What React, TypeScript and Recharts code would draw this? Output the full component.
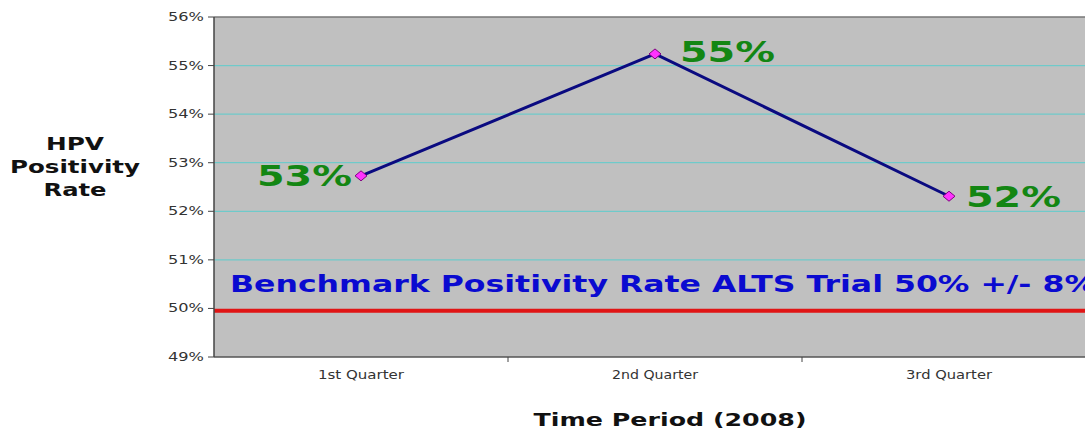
import { CartesianGrid, LabelList, Line, LineChart, ReferenceLine, XAxis, YAxis } from 'recharts';

const quarters = ['1st Quarter', '2nd Quarter', '3rd Quarter'];
const positivityRate = [52.73, 55.24, 52.31];
const rateLabels = ['53%', '55%', '52%'];
const yTicks = [49, 50, 51, 52, 53, 54, 55, 56];
const gridValues = [51, 52, 53, 54, 55];
const benchmarkRate = 49.95;
const benchmarkText = 'Benchmark Positivity Rate ALTS Trial 50% +/- 8%';
const yTitleLines = ['HPV', 'Positivity', 'Rate'];

const data = quarters.map((quarter, i) => ({
  quarter,
  rate: positivityRate[i],
  label: rateLabels[i],
}));

const FONT = '"DejaVu Sans", Verdana, sans-serif';

// eslint-disable-next-line @typescript-eslint/no-explicit-any
function QuarterTick({ x, y, payload, index }: any) {
  const half = payload?.offset || 147;
  return (
    <g>
      <text
        x={x}
        y={y + 14}
        textAnchor="middle"
        fontSize={12}
        fill="#333"
        fontFamily={FONT}
        textLength={86}
        lengthAdjust="spacingAndGlyphs"
      >
        {payload.value}
      </text>
      {index < quarters.length - 1 && (
        <line x1={x + half} x2={x + half} y1={y - 8} y2={y - 3} stroke="#444" strokeWidth={1} />
      )}
    </g>
  );
}

// eslint-disable-next-line @typescript-eslint/no-explicit-any
function PercentTick({ x, y, payload }: any) {
  return (
    <text
      x={x - 2}
      y={y + 4}
      textAnchor="end"
      fontSize={12}
      fill="#333"
      fontFamily={FONT}
      textLength={36}
      lengthAdjust="spacingAndGlyphs"
    >
      {`${payload.value}%`}
    </text>
  );
}

const labelOffsets = [
  { dx: -9, dy: 10, anchor: 'end' },
  { dx: 25, dy: 8, anchor: 'start' },
  { dx: 17, dy: 11, anchor: 'start' },
];

// eslint-disable-next-line @typescript-eslint/no-explicit-any
function RateLabel({ x, y, value, index }: any) {
  const o = labelOffsets[index] ?? labelOffsets[1];
  return (
    <text
      x={x + o.dx}
      y={y + o.dy}
      textAnchor={o.anchor as 'start' | 'end'}
      fontSize={29}
      fontWeight="bold"
      fill="#138613"
      fontFamily={FONT}
      textLength={95}
      lengthAdjust="spacingAndGlyphs"
    >
      {value}
    </text>
  );
}

// eslint-disable-next-line @typescript-eslint/no-explicit-any
function Diamond({ cx, cy }: any) {
  if (cx == null || cy == null) return null;
  return (
    <path
      d={`M${cx},${cy - 5} L${cx + 6},${cy} L${cx},${cy + 5} L${cx - 6},${cy} Z`}
      fill="#ff33ff"
      stroke="#800080"
      strokeWidth={1}
    />
  );
}

const yTitleWidths = [58, 130, 63];

// eslint-disable-next-line @typescript-eslint/no-explicit-any
function YTitle({ viewBox }: any) {
  const top = viewBox.y + viewBox.height / 2 - 37;
  return (
    <g>
      {yTitleLines.map((line, i) => (
        <text
          key={line}
          x={75}
          y={top + i * 23}
          textAnchor="middle"
          fontSize={17}
          fontWeight="bold"
          fill="#111"
          fontFamily={FONT}
          textLength={yTitleWidths[i]}
          lengthAdjust="spacingAndGlyphs"
        >
          {line}
        </text>
      ))}
    </g>
  );
}

// eslint-disable-next-line @typescript-eslint/no-explicit-any
function XTitle({ viewBox }: any) {
  return (
    <text
      x={670}
      y={viewBox.y + 69}
      textAnchor="middle"
      fontSize={18}
      fontWeight="bold"
      fill="#111"
      fontFamily={FONT}
      textLength={273}
      lengthAdjust="spacingAndGlyphs"
    >
      Time Period (2008)
    </text>
  );
}

// eslint-disable-next-line @typescript-eslint/no-explicit-any
function BenchmarkLabel({ viewBox }: any) {
  return (
    <text
      x={230}
      y={viewBox.y - 19}
      fontSize={23}
      fontWeight="bold"
      fill="#0a0ad0"
      fontFamily={FONT}
      textLength={866}
      lengthAdjust="spacingAndGlyphs"
    >
      {benchmarkText}
    </text>
  );
}

export default function App() {
  return (
    <div style={{ position: 'absolute', left: 0, top: 0, width: 1085, height: 430, overflow: 'hidden', background: '#fff' }}>
      <LineChart width={1100} height={430} data={data} margin={{ top: 17, right: 4, bottom: 0, left: 0 }}>
        <CartesianGrid fill="#c0c0c0" stroke="#6fcaca" strokeWidth={1.2} vertical={false} horizontalValues={gridValues} />
        <XAxis
          dataKey="quarter"
          scale="band"
          height={73}
          tickLine={false}
          axisLine={{ stroke: '#555', strokeWidth: 1.5 }}
          tick={<QuarterTick />}
          label={<XTitle />}
        />
        <YAxis
          type="number"
          domain={[49, 56]}
          ticks={yTicks}
          width={214}
          interval={0}
          tick={<PercentTick />}
          tickLine={{ stroke: '#444' }}
          tickSize={6}
          axisLine={{ stroke: '#444', strokeWidth: 1.5 }}
          label={<YTitle />}
        />
        <ReferenceLine y={56} stroke="#777" strokeWidth={1.5} />
        <ReferenceLine y={benchmarkRate} stroke="#e01515" strokeWidth={4} label={<BenchmarkLabel />} />
        <Line
          type="linear"
          dataKey="rate"
          stroke="#0a0a80"
          strokeWidth={3}
          dot={<Diamond />}
          activeDot={false}
          isAnimationActive={false}
        >
          <LabelList dataKey="label" content={<RateLabel />} />
        </Line>
      </LineChart>
    </div>
  );
}
